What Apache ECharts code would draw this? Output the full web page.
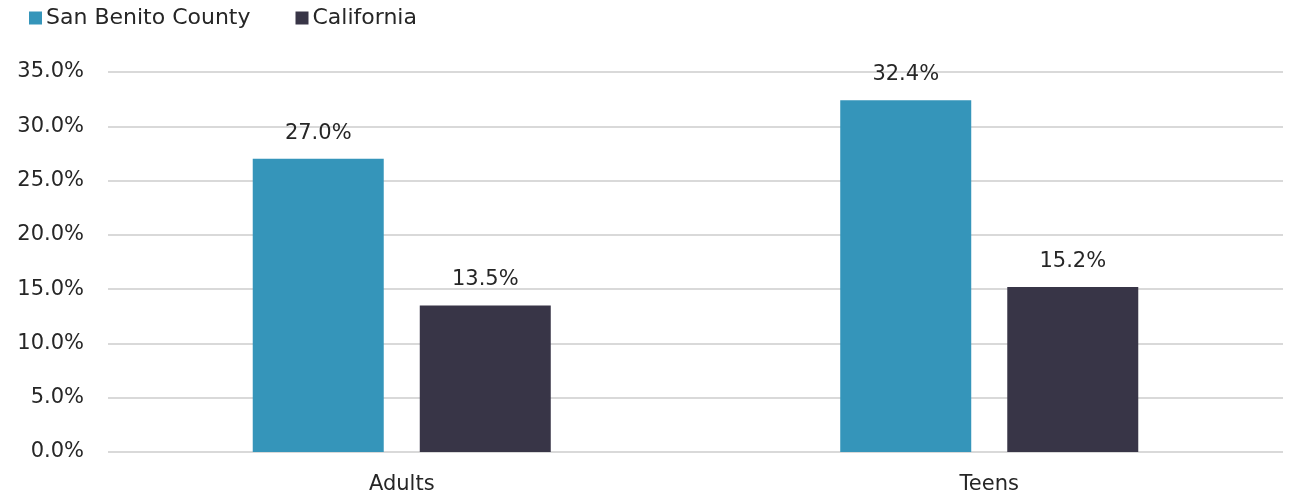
<!DOCTYPE html>
<html>
<head>
<meta charset="utf-8">
<script src="https://cdn.jsdelivr.net/npm/echarts@6/dist/echarts.min.js"></script>
<style>
  html, body { margin: 0; padding: 0; background: #fff; }
  #myChart { width: 1296px; height: 497px; }
</style>
</head>
<body>
<div id="myChart"></div>
<script>
const categories = ['Adults', 'Teens']
const sanBenito = [27.0, 32.4]
const california = [13.5, 15.2]

const FONT = 'DejaVu Sans'
const TEXT = '#262626'

const myChart = echarts.init(document.getElementById('myChart'))
myChart.setOption({
  animation: false,
  textStyle: { fontFamily: FONT },
  legend: {
    left: 24,
    top: 2,
    itemWidth: 13,
    itemHeight: 13,
    itemGap: 45,
    icon: 'rect',
    textStyle: { fontSize: 22, color: TEXT, fontFamily: FONT, padding: [0, 0, 0, -1] },
    data: ['San Benito County', 'California']
  },
  grid: {
    left: 108,
    right: 13,
    top: 72,
    bottom: 45
  },
  xAxis: {
    type: 'category',
    data: categories,
    axisLine: { show: false },
    axisTick: { show: false },
    axisLabel: { fontSize: 21, color: TEXT, margin: 22 }
  },
  yAxis: {
    type: 'value',
    min: 0,
    max: 35,
    interval: 5,
    axisLine: { show: false },
    axisTick: { show: false },
    splitLine: { lineStyle: { color: '#d9d9d9', width: 2 } },
    axisLabel: {
      fontSize: 21,
      color: TEXT,
      margin: 24,
      formatter: v => v.toFixed(1) + '%'
    }
  },
  series: [
    {
      name: 'San Benito County',
      type: 'bar',
      data: sanBenito,
      barWidth: 131,
      barGap: '27.5%',
      itemStyle: { color: '#3595ba' },
      label: {
        show: true,
        position: 'top',
        distance: 15,
        fontSize: 21,
        color: TEXT,
        formatter: p => p.value.toFixed(1) + '%'
      }
    },
    {
      name: 'California',
      type: 'bar',
      data: california,
      barWidth: 131,
      itemStyle: { color: '#383547' },
      label: {
        show: true,
        position: 'top',
        distance: 15,
        fontSize: 21,
        color: TEXT,
        formatter: p => p.value.toFixed(1) + '%'
      }
    }
  ]
})
</script>
</body>
</html>
